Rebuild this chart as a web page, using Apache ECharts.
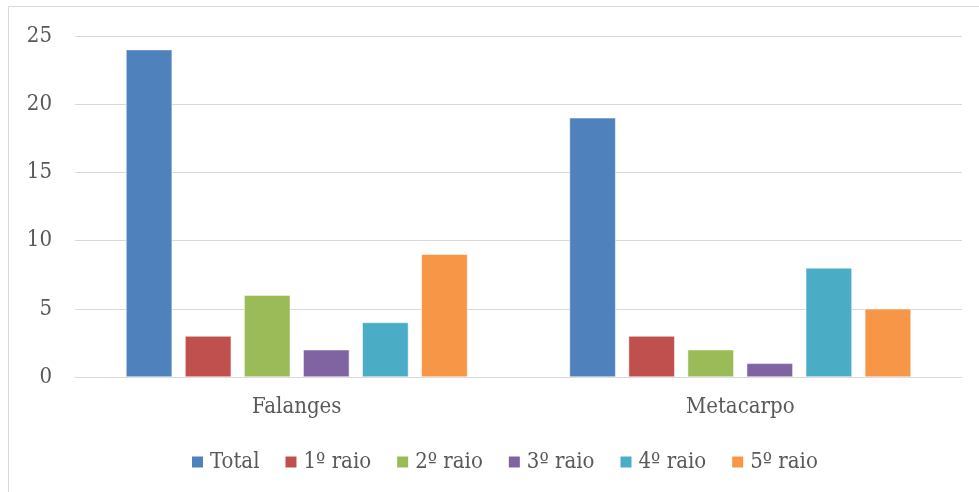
<!DOCTYPE html>
<html>
<head>
<meta charset="utf-8">
<script src="https://cdn.jsdelivr.net/npm/echarts@6/dist/echarts.min.js"></script>
<style>
  html, body { margin: 0; padding: 0; background: #ffffff; }
  #chart { width: 979px; height: 492px; }
</style>
</head>
<body>
<div id="chart"></div>
<script>
// Fracture counts by location and ray
const categories = ['Falanges', 'Metacarpo'];
const seriesNames = ['Total', '1º raio', '2º raio', '3º raio', '4º raio', '5º raio'];
const total = [24, 19];
const raio1 = [3, 3];
const raio2 = [6, 2];
const raio3 = [2, 1];
const raio4 = [4, 8];
const raio5 = [9, 5];
const colors = ['#4F81BD', '#C0504D', '#9BBB59', '#8064A2', '#4BACC6', '#F79646'];

const valueSets = [total, raio1, raio2, raio3, raio4, raio5];
const font = '"DejaVu Serif Condensed", "Liberation Serif", serif';
const textColor = '#595959';

const chart = echarts.init(document.getElementById('chart'), null, { renderer: 'canvas' });

chart.setOption({
  animation: false,
  color: colors,
  textStyle: { fontFamily: font },
  graphic: [{
    type: 'rect',
    shape: { x: 8.5, y: 6.5, width: 1000, height: 600 },
    style: { fill: 'none', stroke: '#d9d9d9', lineWidth: 1 },
    silent: true,
    z: -1
  }],
  grid: { left: 75, right: 17, top: 36, bottom: 115, containLabel: false },
  legend: {
    data: seriesNames,
    top: 446,
    left: 185,
    itemWidth: 13,
    itemHeight: 13,
    itemGap: 24,
    icon: 'rect',
    textStyle: { fontFamily: font, fontSize: 22, color: textColor, padding: [0, 0, 0, 1] }
  },
  xAxis: {
    type: 'category',
    data: categories,
    axisLine: { lineStyle: { color: '#d9d9d9', width: 1 } },
    axisTick: { show: false },
    axisLabel: { fontFamily: font, fontSize: 22, color: textColor, margin: 19 }
  },
  yAxis: {
    type: 'value',
    min: 0,
    max: 25,
    interval: 5,
    axisLine: { show: false },
    axisTick: { show: false },
    splitLine: { lineStyle: { color: '#d9d9d9', width: 1 } },
    axisLabel: { fontFamily: font, fontSize: 22, color: textColor, margin: 23 }
  },
  series: seriesNames.map((name, i) => ({
    name: name,
    type: 'bar',
    data: valueSets[i],
    barGap: '28%',
    barCategoryGap: '23%',
    itemStyle: { color: colors[i], borderColor: '#ffffff', borderWidth: 0.5 }
  }))
});
</script>
</body>
</html>
